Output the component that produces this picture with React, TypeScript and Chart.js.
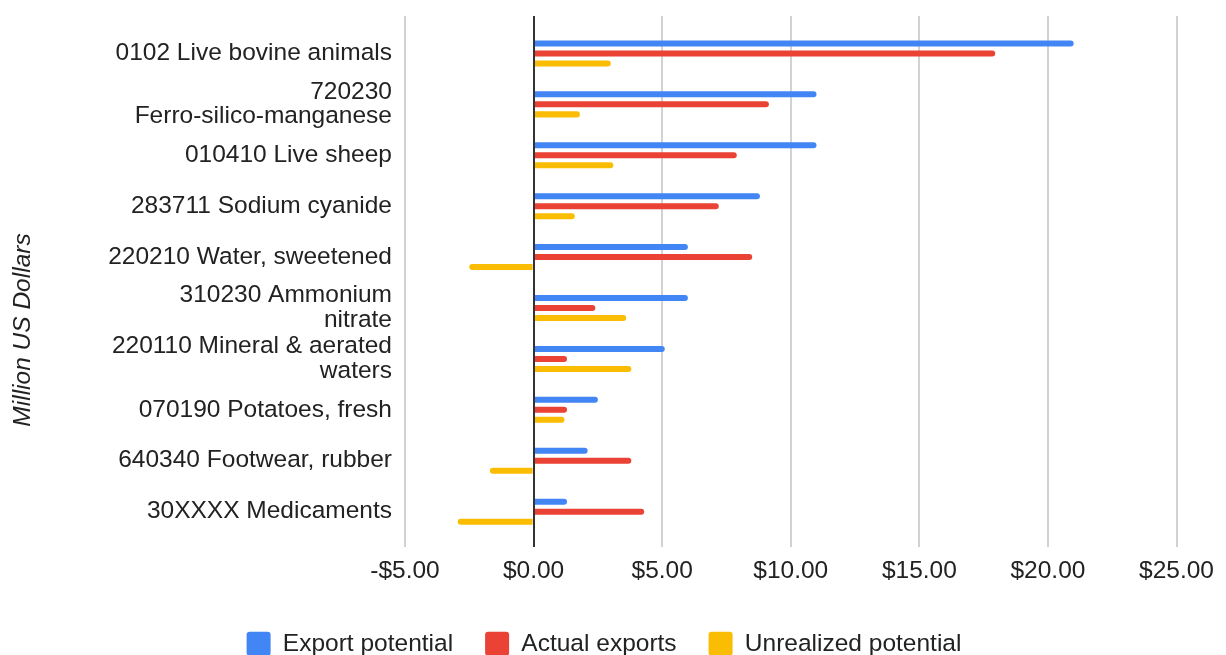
import React, { useEffect, useRef } from 'react';
import { Chart, registerables } from 'chart.js';

Chart.register(...registerables);

const categories: (string | string[])[] = [
  '0102 Live bovine animals',
  ['720230', 'Ferro-silico-manganese'],
  '010410 Live sheep',
  '283711 Sodium cyanide',
  '220210 Water, sweetened',
  ['310230 Ammonium', 'nitrate'],
  ['220110 Mineral & aerated', 'waters'],
  '070190 Potatoes, fresh',
  '640340 Footwear, rubber',
  '30XXXX Medicaments',
];

const exportPotential = [21.0, 11.0, 11.0, 8.8, 6.0, 6.0, 5.1, 2.5, 2.1, 1.3];
const actualExports = [17.95, 9.15, 7.9, 7.2, 8.5, 2.4, 1.3, 1.3, 3.8, 4.3];
const unrealizedPotential = [3.0, 1.8, 3.1, 1.6, -2.5, 3.6, 3.8, 1.2, -1.7, -2.95];

const seriesNames = ['Export potential', 'Actual exports', 'Unrealized potential'];
const seriesColors = ['#4285F4', '#EA4335', '#FBBC04'];

const xMin = -5;
const xMax = 25;
const xStep = 5;
const yTitle = 'Million US Dollars';

const FONT = '"Liberation Sans", Arial, Helvetica, sans-serif';
const TEXT = '#222222';
const GRID = '#d2d2d2';
const ZERO = '#333333';
const FS = 24.5;

const formatMoney = (v: number) => (v < 0 ? '-' : '') + '$' + Math.abs(v).toFixed(2);

const yTitlePlugin = {
  id: 'yTitlePlugin',
  afterDraw(chart: any) {
    const ctx = chart.ctx;
    ctx.save();
    ctx.translate(23, chart.height / 2 - 3);
    ctx.rotate(-Math.PI / 2);
    ctx.font = `italic ${FS}px ${FONT}`;
    ctx.fillStyle = TEXT;
    ctx.textAlign = 'center';
    ctx.textBaseline = 'middle';
    ctx.fillText(yTitle, 0, 0);
    ctx.restore();
  },
};

export default function App() {
  const canvasRef = useRef<HTMLCanvasElement | null>(null);

  useEffect(() => {
    if (!canvasRef.current) return;
    Chart.defaults.font.family = FONT;
    const data = [exportPotential, actualExports, unrealizedPotential];
    const chart = new Chart(canvasRef.current, {
      type: 'bar',
      data: {
        labels: categories,
        datasets: data.map((d, i) => ({
          label: seriesNames[i],
          data: d,
          backgroundColor: seriesColors[i],
          borderWidth: 0,
          borderRadius: 3,
          borderSkipped: 'start',
          categoryPercentage: 0.59,
          barPercentage: 0.6,
          xAxisID: 'x',
        })),
      },
      options: {
        indexAxis: 'y',
        animation: false,
        responsive: false,
        devicePixelRatio: 1,
        layout: { padding: { top: 16, right: 15, left: 0, bottom: 0 } },
        plugins: {
          legend: {
            position: 'bottom',
            labels: {
              color: TEXT,
              font: { size: FS, family: FONT, lineHeight: 1.2 },
              boxWidth: 24,
              boxHeight: 24,
              padding: 32,
              useBorderRadius: true,
              borderRadius: 3,
            },
          },
          tooltip: { enabled: false },
        },
        scales: {
          x: {
            type: 'linear',
            position: 'bottom',
            min: xMin,
            max: xMax,
            ticks: {
              stepSize: xStep,
              color: TEXT,
              padding: 9,
              font: { size: FS, family: FONT, lineHeight: 1.2 },
              callback: (v: any) => formatMoney(Number(v)),
            },
            grid: {
              color: (c: any) => (c.tick && c.tick.value === 0 ? ZERO : GRID),
              tickColor: (c: any) => (c.tick && c.tick.value === 0 ? ZERO : GRID),
              lineWidth: 2,
              tickLength: 10,
            },
            border: { display: false },
            afterFit: (scale: any) => {
              scale.height += 5;
            },
          },
          x2: {
            type: 'linear',
            position: 'top',
            min: xMin,
            max: xMax,
            ticks: { stepSize: xStep, display: false },
            grid: {
              z: 1,
              color: (c: any) => (c.tick && c.tick.value === 0 ? ZERO : 'rgba(0,0,0,0)'),
              tickColor: (c: any) => (c.tick && c.tick.value === 0 ? ZERO : GRID),
              lineWidth: 2,
              tickLength: 12,
            },
            border: { display: false },
          },
          y: {
            type: 'category',
            grid: { display: false, drawTicks: false, tickLength: 0 },
            border: { display: false },
            ticks: {
              autoSkip: false,
              color: TEXT,
              padding: 13,
              font: { size: FS, family: FONT, lineHeight: 1.01 },
            },
            afterFit: (scale: any) => {
              scale.width = 405;
            },
          },
        },
      } as any,
      plugins: [yTitlePlugin],
    });
    return () => chart.destroy();
  }, []);

  return (
    <div style={{ position: 'fixed', left: 0, top: 0, width: 1223, height: 666 }}>
      <canvas ref={canvasRef} width={1223} height={666} style={{ width: 1223, height: 666 }} />
    </div>
  );
}
